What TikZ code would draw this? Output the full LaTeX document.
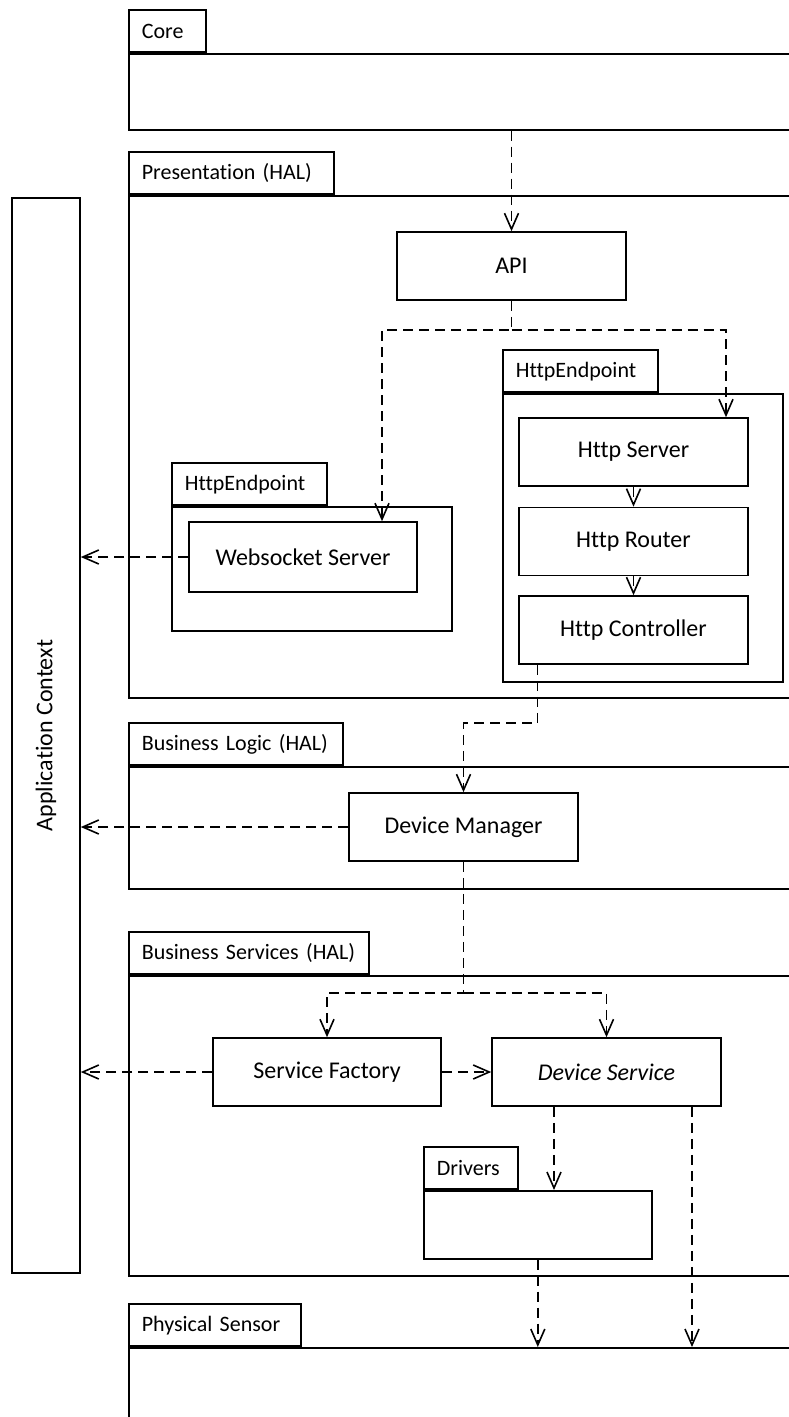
\documentclass[tikz,border=0pt]{standalone}
\usepackage{fontspec}
\setmainfont{Carlito}[Ligatures={NoCommon}, Contextuals={NoAlternate}]
\usetikzlibrary{arrows.meta,calc}
\begin{document}
\begin{tikzpicture}[x=1pt,y=-1pt,
  every node/.style={font=\fontsize{24}{28}\selectfont},
  box/.style={draw, line width=1.6pt, inner sep=0pt, minimum width=229pt, minimum height=68pt},
  pkgbody/.style={draw, line width=1.6pt, anchor=north west, inner sep=0pt},
  pkgtab/.style={draw, line width=1.6pt, anchor=south west, inner xsep=13pt, inner ysep=0pt,
    minimum height=42pt, align=left, font=\fontsize{22}{26}\selectfont},
  dep/.style={line width=1.6pt, dash pattern=on 10pt off 6pt,
    -{Straight Barb[length=16pt,width=14pt,line width=1.6pt]}},
]
\useasboundingbox (0,0) rectangle (789,1417);
\clip (0,0) rectangle (789,1417);

% layers (packages)
\node[pkgbody, minimum width=720pt, minimum height=76pt] (core) at (128,53) {};
\node[pkgtab, text width=51pt] (coreTab) at (core.north west) {Core};

\node[pkgbody, minimum width=720pt, minimum height=502pt] (pres) at (128,195) {};
\node[pkgtab, text width=179pt] (presTab) at (pres.north west) {Presentation (HAL)};

\node[pkgbody, minimum width=280pt, minimum height=288pt] (epR) at (502,393) {};
\node[pkgtab, text width=129pt] (epRTab) at (epR.north west) {HttpEndpoint};

\node[pkgbody, minimum width=280pt, minimum height=124pt] (epL) at (171,506) {};
\node[pkgtab, text width=129pt] (epLTab) at (epL.north west) {HttpEndpoint};

\node[pkgbody, minimum width=720pt, minimum height=122pt] (logic) at (128,766) {};
\node[pkgtab, text width=188pt] (logicTab) at (logic.north west) {Business Logic (HAL)};

\node[pkgbody, minimum width=720pt, minimum height=300pt] (serv) at (128,975) {};
\node[pkgtab, text width=214pt] (servTab) at (serv.north west) {Business Services (HAL)};

\node[pkgbody, minimum width=228pt, minimum height=68pt] (drv) at (423,1190) {};
\node[pkgtab, text width=68pt] (drvTab) at (drv.north west) {Drivers};

\node[pkgbody, minimum width=720pt, minimum height=200pt] (phys) at (128,1347) {};
\node[pkgtab, text width=146pt] (physTab) at (phys.north west) {Physical Sensor};

% application context column
\node[draw, line width=1.6pt, inner sep=0pt, minimum width=68pt, minimum height=1075pt]
  (ac) at (46,735.5) {\rotatebox{90}{Application Context}};

% components
\node[box] (api) at (511.5,266) {API};
\node[box] (hs) at (633.5,452) {Http Server};
\node[box] (hr) at (633.5,541.5) {Http Router};
\node[box] (hc) at (633.5,630) {Http Controller};
\node[box, minimum width=228pt, minimum height=70pt] (ws) at (303,557) {Websocket Server};
\node[box] (dm) at (463.5,827) {Device Manager};
\node[box, minimum width=228pt] (sf) at (327,1072) {Service Factory};
\node[box] (ds) at (606.5,1072) {\itshape Device Service};

% dependencies
\draw[dep] (core.south -| api.north) -- (api.north);
\coordinate (apiSplit) at ([yshift=-29pt]api.south);
\draw[dep] (api.south) -- (apiSplit) -| ([xshift=79pt]ws.north);
\draw[dep] (apiSplit) -| ([xshift=92.5pt]hs.north);
\draw[dep] (hs.south) -- (hr.north);
\draw[dep] (hr.south) -- (hc.north);
\draw[dep] ([xshift=-96pt]hc.south) -- ++(0,58) -| (dm.north);
\draw[dep] (ws.west) -- (ws.west -| ac.east);
\draw[dep] (dm.west) -- (dm.west -| ac.east);
\draw[dep] (sf.west) -- (sf.west -| ac.east);
\coordinate (dmSplit) at ([yshift=-131pt]dm.south);
\draw[dep] (dm.south) -- (dmSplit) -| (sf.north);
\draw[dep] (dmSplit) -| (ds.north);
\draw[dep] (sf.east) -- (ds.west);
\draw[dep] ([xshift=-52.5pt]ds.south) -- ([xshift=-52.5pt]ds.south |- drv.north);
\draw[dep] (drv.south) -- (drv.south |- phys.north);
\draw[dep] ([xshift=85.5pt]ds.south) -- ([xshift=85.5pt]ds.south |- phys.north);
\end{tikzpicture}
\end{document}
